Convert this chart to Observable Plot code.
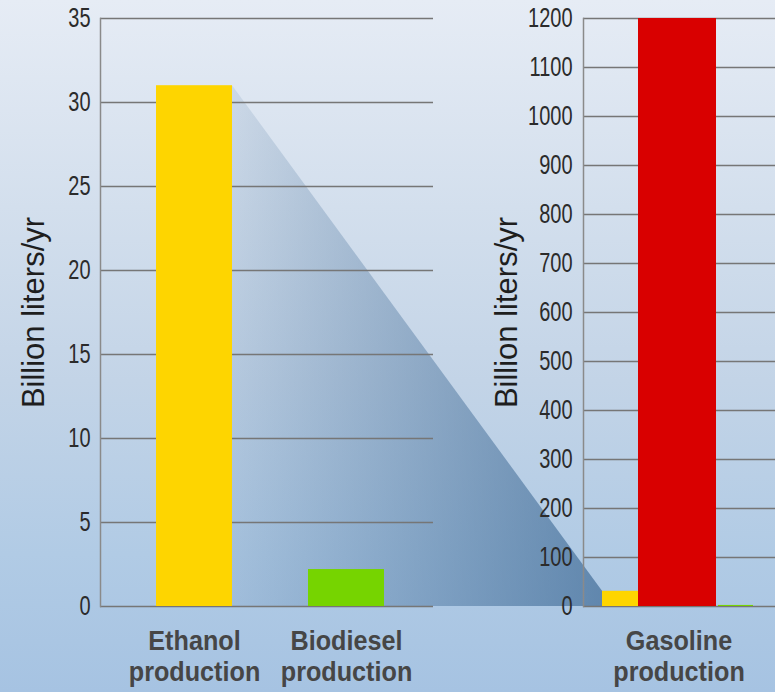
<!DOCTYPE html>
<html>
<head>
<meta charset="utf-8">
<script src="https://cdn.jsdelivr.net/npm/d3@7"></script>
<script src="https://cdn.jsdelivr.net/npm/@observablehq/plot@0.6"></script>
<style>
  html, body { margin: 0; padding: 0; }
  #chart {
    position: relative; width: 775px; height: 692px; overflow: hidden;
    background: linear-gradient(to bottom, #e6ecf5 0%, #d3dfed 30%, #c3d4e7 55%, #b1cbe5 80%, #a6c3e2 100%);
  }
  #chart svg { position: absolute; left: 0; top: 0; }
</style>
</head>
<body>
<div id="chart"></div>
<script>
// ---- data ----
const leftCategories = ["Ethanol production", "Biodiesel production"];
const leftValues = [31, 2.2];
const rightCategories = ["Ethanol", "Gasoline", "Biodiesel"];
const rightValues = [31, 1200, 2.2];
const rightLabels = ["", "Gasoline production", ""];
const leftTicks = [0, 5, 10, 15, 20, 25, 30, 35];
const rightTicks = [0, 100, 200, 300, 400, 500, 600, 700, 800, 900, 1000, 1100, 1200];
const yLabel = "Billion liters/yr";
const colors = {Ethanol: "#fed500", Biodiesel: "#76d400", Gasoline: "#d90000"};

const leftData = leftCategories.map((c, i) => ({cat: c, value: leftValues[i], key: c.split(" ")[0]}));
const rightData = rightCategories.map((c, i) => ({cat: c, value: rightValues[i]}));

const FONT = "'Liberation Sans', Arial, sans-serif";
const GRID = "#767676";
const TICKTXT = "#2b2b2b";
const CATTXT = "#464646";

const W = 775, H = 692, MT = 18, MB = 86;

const left = Plot.plot({
  width: W, height: H,
  marginLeft: 100, marginRight: W - 433, marginTop: MT, marginBottom: MB,
  style: {background: "transparent", overflow: "visible", fontFamily: FONT},
  x: {type: "band", domain: leftCategories, range: [118, 422], paddingInner: 0.5, paddingOuter: 0.25, align: 0.5},
  y: {domain: [0, 35]},
  marks: [
    Plot.gridY(leftTicks, {stroke: GRID, strokeOpacity: 1, strokeWidth: 1.4}),
    Plot.frame({anchor: "left", stroke: "#8a8a8a", strokeWidth: 1.5}),
    Plot.barY(leftData, {x: "cat", y: "value", fill: d => colors[d.key]}),
    Plot.axisY(leftTicks, {tickSize: 0, tickPadding: 10, fontSize: 27, fill: TICKTXT, label: null, tickFormat: d => String(d)}),
    Plot.text([yLabel], {frameAnchor: "left", rotate: -90, dx: -66, textAnchor: "middle", fontSize: 31, fill: "#1e1e1e"}),
    Plot.axisX(leftCategories, {tickSize: 0, tickPadding: 22, fontSize: 28, fontWeight: "bold", fill: CATTXT,
      lineHeight: 1.1, tickFormat: d => d.replace(" ", "\n"), label: null})
  ]
});

const right = Plot.plot({
  width: W, height: H,
  marginLeft: 583, marginRight: 0, marginTop: MT, marginBottom: MB,
  style: {background: "transparent", overflow: "visible", fontFamily: FONT},
  x: {type: "band", domain: rightCategories, range: [600, 765], padding: 0},
  y: {domain: [0, 1200]},
  marks: [
    Plot.gridY(rightTicks, {stroke: GRID, strokeOpacity: 1, strokeWidth: 1.4}),
    Plot.frame({anchor: "left", stroke: "#8a8a8a", strokeWidth: 1.5}),
    Plot.barY(rightData.filter(d => d.cat === "Ethanol"), {x: "cat", y: "value", fill: colors.Ethanol, insetLeft: 2, insetRight: 1}),
    Plot.barY(rightData.filter(d => d.cat === "Gasoline"), {x: "cat", y: "value", fill: colors.Gasoline, insetLeft: -17, insetRight: -6}),
    Plot.barY(rightData.filter(d => d.cat === "Biodiesel"), {x: "cat", y: "value", fill: colors.Biodiesel, insetLeft: 8, insetRight: 12}),
    Plot.axisY(rightTicks, {tickSize: 0, tickPadding: 11, fontSize: 27, fill: TICKTXT, label: null, tickFormat: d => String(d)}),
    Plot.text([yLabel], {frameAnchor: "left", rotate: -90, dx: -76, textAnchor: "middle", fontSize: 31, fill: "#1e1e1e"}),
    Plot.axisX(["Gasoline"], {tickSize: 0, tickPadding: 22, fontSize: 28, fontWeight: "bold", fill: CATTXT,
      lineHeight: 1.1, dx: -4, tickFormat: d => rightLabels[rightCategories.indexOf(d)].replace(" ", "\n"), label: null})
  ]
});

const chart = document.getElementById("chart");
chart.appendChild(left);
chart.appendChild(right);

// emulate the condensed typeface of the original by narrowing glyphs horizontally
function condense(svg, selector, sx) {
  d3.select(svg).selectAll(selector).each(function() {
    const t = this.getAttribute("transform") || "";
    this.setAttribute("transform", t + ` scale(${sx},1)`);
  });
}
for (const s of [left, right]) {
  condense(s, 'g[aria-label="y-axis tick label"] text', 0.74);
  condense(s, 'g[aria-label="x-axis tick label"] text', 0.9);
}

// shadow "zoom" wedge linking the ethanol bar in both panels, positioned via both plots' scales
const lx = left.scale("x"), ly = left.scale("y");
const rx = right.scale("x"), ry = right.scale("y");
const eVal = leftValues[0];
const x1 = lx.apply(leftCategories[0]) + lx.bandwidth;
const x2 = rx.apply("Ethanol") + 2;
const pts = [[x1, ly.apply(eVal)], [x2, ry.apply(rightValues[0])], [x2, ry.apply(0)], [x1, ly.apply(0)]];
const svg = d3.select(left);
const defs = svg.insert("defs", ":first-child");
const g = defs.append("linearGradient").attr("id", "wedge").attr("gradientUnits", "userSpaceOnUse")
  .attr("x1", x1).attr("x2", x2).attr("y1", 0).attr("y2", 0);
g.append("stop").attr("offset", 0).attr("stop-color", "#2d5b89").attr("stop-opacity", 0.1);
g.append("stop").attr("offset", 1).attr("stop-color", "#2d5b89").attr("stop-opacity", 0.6);
svg.insert("polygon", "defs + *").attr("points", pts.map(p => p.join(",")).join(" ")).attr("fill", "url(#wedge)");
</script>
</body>
</html>
